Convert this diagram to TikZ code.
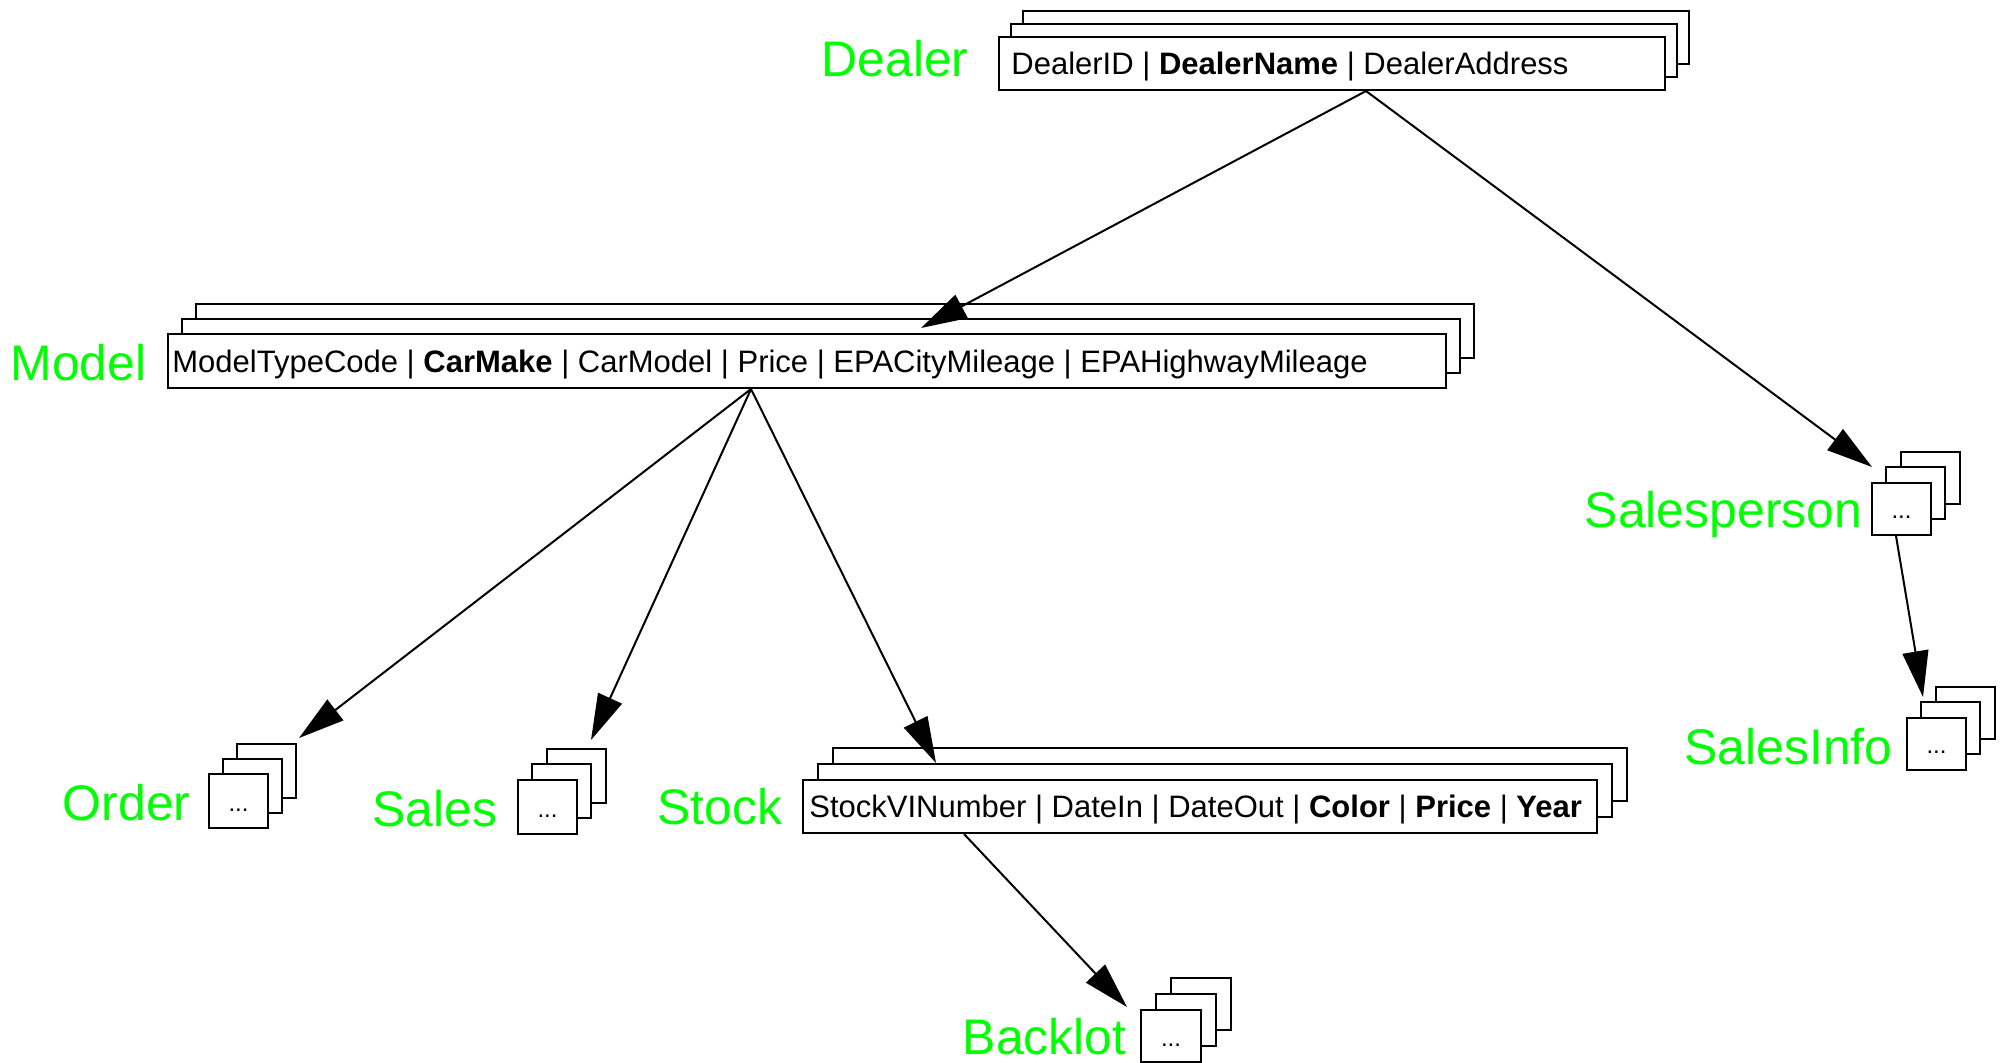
\documentclass[tikz,border=0pt]{standalone}
\usepackage{fontspec}
\setmainfont{Liberation Sans}
\usetikzlibrary{arrows.meta,calc}
\definecolor{lbl}{RGB}{0,255,0}
\tikzset{
  layer/.style={draw=black, fill=white, line width=1pt},
  lab/.style={text=lbl, font=\fontsize{25pt}{30pt}\selectfont, anchor=base east, inner sep=0pt},
  rec/.style={font=\fontsize{15.5pt}{18pt}\selectfont, anchor=base west, inner sep=0pt},
  dotstxt/.style={font=\fontsize{12pt}{14pt}\selectfont, anchor=base, inner sep=0pt},
  link/.style={line width=1pt, -{Triangle[length=23pt,width=13pt]}},
}
% name, x, y, w, h, offset
\newcommand\stackbox[6]{%
  \draw[layer] ({#2+2*#6},{#3-2*#6}) rectangle ++(#4,#5);
  \draw[layer] ({#2+#6},{#3-#6}) rectangle ++(#4,#5);
  \node[layer, inner sep=0pt, minimum width={#4*0.5pt}, minimum height={#5*0.5pt}, anchor=north west] (#1) at (#2,#3) {};
}
\begin{document}
\begin{tikzpicture}[x=0.5pt, y=-0.5pt]
\useasboundingbox (0,0) rectangle (2005,1062);

% Dealer
\stackbox{dealer}{998}{36}{666}{53}{12.5}
\node[rec] (dealertxt) at (1011,74) {DealerID | \textbf{DealerName} | DealerAddress};
\node[lab] (dealerlab) at (969,76) {Dealer};

% Model
\stackbox{model}{167}{333}{1278}{54}{14.5}
\node[rec] (modeltxt) at (172,372) {ModelTypeCode | \textbf{CarMake} | CarModel | Price | EPACityMileage | EPAHighwayMileage};
\node[lab] (modellab) at (147,380) {Model};

% Stock
\stackbox{stock}{802}{779}{794}{53}{15.5}
\node[rec] (stocktxt) at (809,817) {StockVINumber | DateIn | DateOut | \textbf{Color} | \textbf{Price} | \textbf{Year}};
\node[lab] (stocklab) at (783,824) {Stock};

% Order
\stackbox{order}{208}{773}{59}{54}{14.5}
\node[dotstxt] (orderdots) at ($(order.north)+(0,38)$) {...};
\node[lab] (orderlab) at (191,820) {Order};

% Sales
\stackbox{sales}{517}{779}{59}{54}{15}
\node[dotstxt] (salesdots) at ($(sales.north)+(0,38)$) {...};
\node[lab] (saleslab) at (498,826) {Sales};

% Salesperson
\stackbox{salesperson}{1871}{482}{59}{52}{15}
\node[dotstxt] (spdots) at ($(salesperson.north)+(0,36)$) {...};
\node[lab] (splab) at (1863,527) {Salesperson};

% SalesInfo
\stackbox{salesinfo}{1906}{717}{59}{52}{15}
\node[dotstxt] (sidots) at ($(salesinfo.north)+(0,36)$) {...};
\node[lab] (silab) at (1893,764) {SalesInfo};

% Backlot
\stackbox{backlot}{1140}{1009}{60}{52}{15.5}
\node[dotstxt] (bldots) at ($(backlot.north)+(0,37)$) {...};
\node[lab] (bllab) at (1127,1054) {Backlot};

% connectors
\draw[link] ($(dealer.south west)+(368,0)$) -- ($(model.north west)+(754,-5)$);
\draw[link] ($(dealer.south west)+(368,0)$) -- ($(salesperson.north west)+(1,-15)$);
\draw[link] ($(model.south west)+(584,0)$) -- ($(order.north east)+(30,-35)$);
\draw[link] ($(model.south west)+(584,0)$) -- ($(sales.north west)+(74,-39)$);
\draw[link] ($(model.south west)+(584,0)$) -- ($(stock.north west)+(134,-16)$);
\draw[link] ($(stock.south west)+(162,0)$) -- ($(backlot.north west)+(-13,-2)$);
\draw[link] ($(salesperson.south west)+(25,0)$) -- ($(salesinfo.north west)+(17,-20)$);
\end{tikzpicture}
\end{document}
